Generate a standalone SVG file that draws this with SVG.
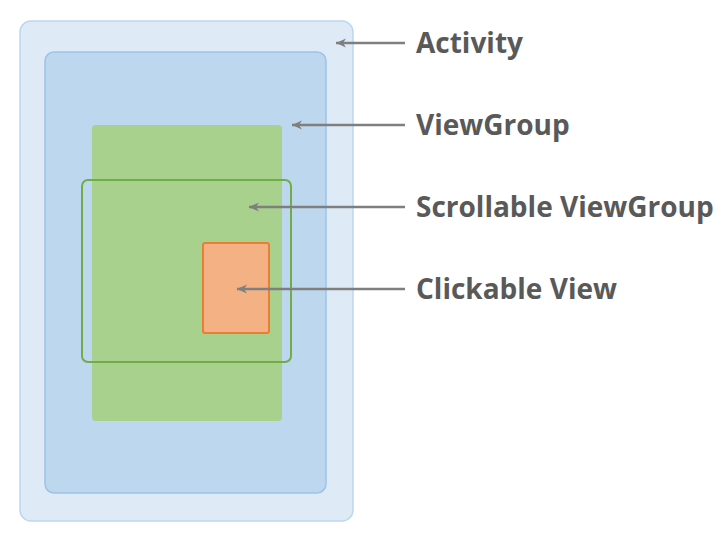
<svg xmlns="http://www.w3.org/2000/svg" width="726" height="541" viewBox="0 0 726 541">
<defs>
<marker id="ah" markerWidth="11" markerHeight="10" refX="10" refY="5" orient="auto" markerUnits="userSpaceOnUse">
<path d="M0,0.5 L10,5 L0,9.5 L3,5 Z" fill="#7F7F7F"/>
</marker>
</defs>
<style>
.lbl{font-family:"Open Sans","Noto Sans","Liberation Sans",sans-serif;font-weight:bold;font-size:28px;fill:#595959}
.conn{stroke:#7F7F7F;stroke-width:2.6;fill:none}
</style>
<rect width="726" height="541" fill="#FFFFFF"/>
<g id="activity">
<rect x="20" y="21" width="333" height="500" rx="11" fill="#DEEBF7" stroke="#BDD7EE" stroke-width="1.5"/>
</g>
<g id="viewgroup">
<rect x="45" y="52" width="281" height="441" rx="9" fill="#BDD7EE" stroke="#9DC3E6" stroke-width="1.5"/>
</g>
<g id="content">
<rect x="92" y="125" width="190" height="296" rx="4" fill="#A9D18E"/>
</g>
<g id="scrollable">
<rect x="82" y="180" width="209" height="182" rx="6" fill="none" stroke="#70AD47" stroke-width="2"/>
</g>
<g id="clickable">
<rect x="203" y="243" width="66" height="90" rx="2" fill="#F4B183" stroke="#ED7D31" stroke-width="2"/>
</g>
<g id="connectors">
<line class="conn" x1="405" y1="43" x2="336" y2="43" marker-end="url(#ah)"/>
<line class="conn" x1="405" y1="125" x2="292" y2="125" marker-end="url(#ah)"/>
<line class="conn" x1="405" y1="207" x2="249" y2="207" marker-end="url(#ah)"/>
<line class="conn" x1="405" y1="289" x2="237" y2="289" marker-end="url(#ah)"/>
</g>
<g id="labels">
<text class="lbl" x="416" y="53">Activity</text>
<text class="lbl" x="416" y="135">ViewGroup</text>
<text class="lbl" x="416" y="217">Scrollable ViewGroup</text>
<text class="lbl" x="416" y="299">Clickable View</text>
</g>
</svg>
